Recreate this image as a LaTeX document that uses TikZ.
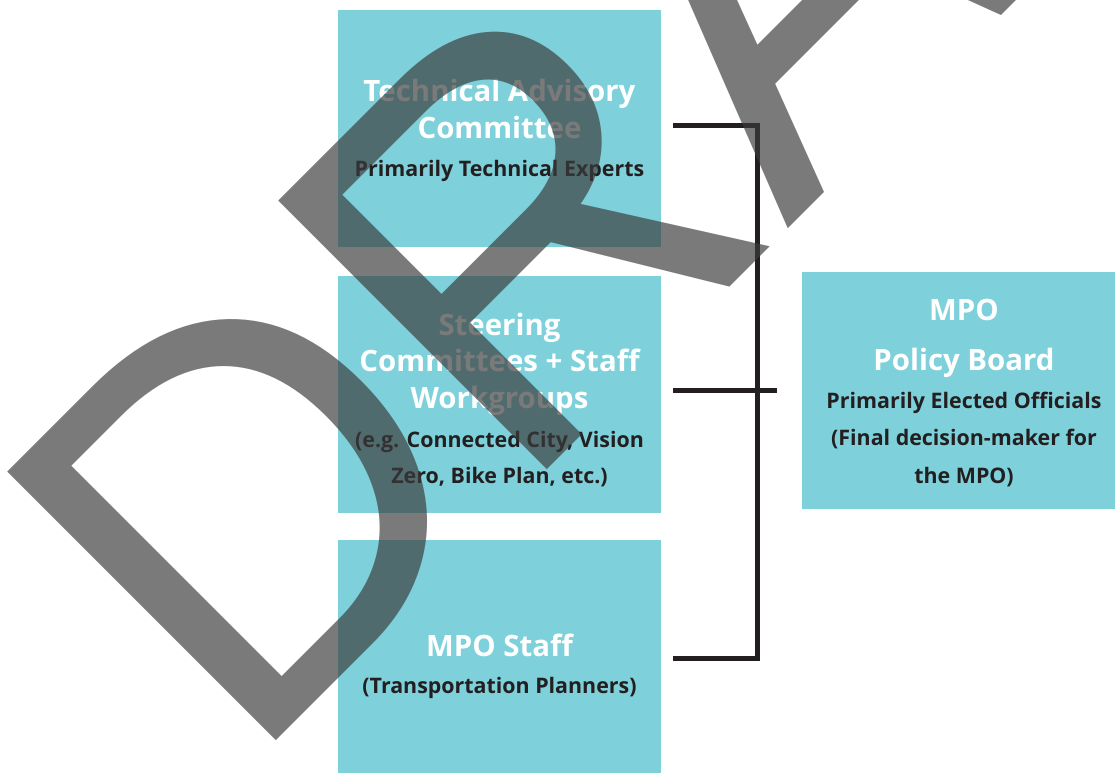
\documentclass[tikz,border=0pt]{standalone}
\usepackage{fontspec}
\setmainfont{Open Sans}
\newfontfamily\wmfont{Liberation Sans}
\definecolor{boxc}{HTML}{7ED1DB}
\definecolor{darktxt}{HTML}{231F20}
\definecolor{wmgray}{HTML}{3B3B3B}
\begin{document}
\begin{tikzpicture}[x=1pt,y=-1pt,
  box/.style={fill=boxc, draw=none, rectangle, inner sep=0, minimum width=323pt, minimum height=237pt},
  ttl/.style={text=white, font=\bfseries\fontsize{29.4}{37}\selectfont, align=center, inner sep=0, anchor=base},
  sub/.style={text=darktxt, font=\bfseries\fontsize{21.4}{37}\selectfont, align=center, inner sep=0, anchor=base},
  brk/.style={draw=darktxt, line width=5pt, line join=miter},
  wmk/.style={text=wmgray, text opacity=0.68, font=\wmfont\fontsize{531}{531}\selectfont, rotate=45, yscale=1.04, anchor=base west, inner sep=0}]
\useasboundingbox (0,0) rectangle (1115,772);
\clip (0,0) rectangle (1115,772);
\fill[white] (0,0) rectangle (1115,772);
% boxes
\node[box] (b1) at (499.5,128.5) {};
\node[box] (b2) at (499.5,394.5) {};
\node[box, minimum height=240pt] (b3) at (499.5,660) {};
\node[box, minimum width=325pt] (b4) at (964.5,390.5) {};
% texts (base anchor = baseline of the last line)
\node[ttl] (t1) at (499.5,138) {Technical Advisory\\Committee};
\node[sub] (s1) at (499.5,176) {Primarily Technical Experts};
\node[ttl, font=\bfseries\fontsize{29.4}{36.5}\selectfont] (t2) at (499.5,408) {Steering\\Committees + Staff\\Workgroups};
\node[sub, font=\bfseries\fontsize{21.4}{36}\selectfont] (s2) at (499.5,483) {(e.g. Connected City, Vision\\Zero, Bike Plan, etc.)};
\node[ttl] (t3) at (499.5,656) {MPO Staff};
\node[sub] (s3) at (499.5,693) {(Transportation Planners)};
\node[ttl] (t4) at (964,370) {MPO\\[13pt]Policy Board};
\node[sub, font=\bfseries\fontsize{21.4}{37.5}\selectfont] (s4) at (964,483) {Primarily Elected Officials\\(Final decision-maker for\\the MPO)};
% bracket
\coordinate (a1) at (673,125.5);
\coordinate (a2) at (673,390);
\coordinate (a3) at (673,658);
\coordinate (v1) at (757,125.5);
\coordinate (v3) at (757,658);
\coordinate (m) at (777,390);
\draw[brk] (a1) -- (v1) -- (v3) -- (a3);
\draw[brk] (a2) -- (m);
% watermark
\node[wmk] (wm) at (245,772) {DRAFT};
\end{tikzpicture}
\end{document}
